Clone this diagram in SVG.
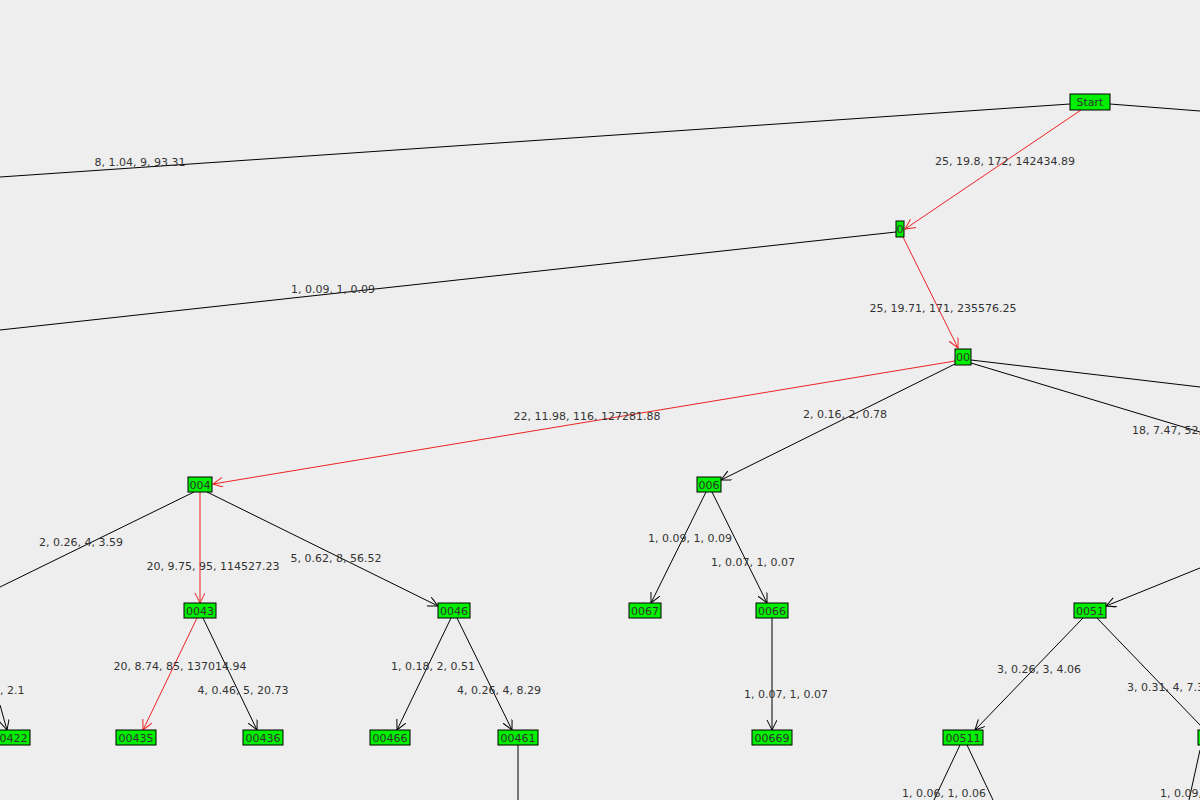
<svg xmlns="http://www.w3.org/2000/svg" width="1200" height="800" viewBox="0 0 1200 800">
<style>
.n rect{fill:#00ee00;stroke:#000;stroke-width:1}
.n text{font-family:"DejaVu Sans",sans-serif;font-size:11px;fill:#333;text-anchor:middle}
.e{stroke:#000;stroke-width:1;fill:none}
.r{stroke:#ee2222;stroke-width:1;fill:none}
.l{font-family:"DejaVu Sans",sans-serif;font-size:11px;fill:#333;text-anchor:middle}
</style>
<defs>
<marker id="ab" markerWidth="12" markerHeight="12" refX="10" refY="5" orient="auto" markerUnits="userSpaceOnUse"><path d="M0,0 L10,5 L0,10" fill="none" stroke="#000"/></marker>
<marker id="ar" markerWidth="12" markerHeight="12" refX="10" refY="5" orient="auto" markerUnits="userSpaceOnUse"><path d="M0,0 L10,5 L0,10" fill="none" stroke="#ee2222"/></marker>
</defs>
<rect width="1200" height="800" fill="#eeeeee"/>
<g id="connectors">
<line class="e" x1="1070" y1="104" x2="0" y2="177"/>
<line class="e" x1="1110" y1="104" x2="1200" y2="111"/>
<line class="r" x1="1081" y1="110" x2="905" y2="229" marker-end="url(#ar)"/>
<line class="e" x1="896" y1="232" x2="0" y2="330"/>
<line class="r" x1="903" y1="237" x2="958" y2="348" marker-end="url(#ar)"/>
<line class="e" x1="971" y1="360" x2="1200" y2="387"/>
<line class="e" x1="971" y1="363" x2="1200" y2="432"/>
<line class="r" x1="955" y1="361" x2="213" y2="484" marker-end="url(#ar)"/>
<line class="e" x1="955" y1="364" x2="721" y2="480" marker-end="url(#ab)"/>
<line class="e" x1="194" y1="492" x2="0" y2="587"/>
<line class="r" x1="200" y1="492" x2="200" y2="603" marker-end="url(#ar)"/>
<line class="e" x1="207" y1="492" x2="438" y2="606" marker-end="url(#ab)"/>
<line class="e" x1="0" y1="705" x2="7" y2="730" marker-end="url(#ab)"/>
<line class="r" x1="197" y1="618" x2="143" y2="730" marker-end="url(#ar)"/>
<line class="e" x1="203" y1="618" x2="257" y2="730" marker-end="url(#ab)"/>
<line class="e" x1="451" y1="618" x2="397" y2="730" marker-end="url(#ab)"/>
<line class="e" x1="457" y1="618" x2="512" y2="730" marker-end="url(#ab)"/>
<line class="e" x1="518" y1="745" x2="518" y2="800"/>
<line class="e" x1="706" y1="492" x2="651" y2="603" marker-end="url(#ab)"/>
<line class="e" x1="712" y1="492" x2="767" y2="603" marker-end="url(#ab)"/>
<line class="e" x1="772" y1="618" x2="772" y2="730" marker-end="url(#ab)"/>
<line class="e" x1="1200" y1="568" x2="1106" y2="606" marker-end="url(#ab)"/>
<line class="e" x1="1083" y1="618" x2="975" y2="730" marker-end="url(#ab)"/>
<line class="e" x1="1097" y1="618" x2="1200" y2="725"/>
<line class="e" x1="960" y1="745" x2="934" y2="800"/>
<line class="e" x1="967" y1="745" x2="993" y2="800"/>
<line class="e" x1="1200" y1="750" x2="1189" y2="800"/>
</g>
<g id="labels">
<text class="l" x="140" y="166">8, 1.04, 9, 93.31</text>
<text class="l" x="1005" y="165">25, 19.8, 172, 142434.89</text>
<text class="l" x="333" y="293">1, 0.09, 1, 0.09</text>
<text class="l" x="943" y="312">25, 19.71, 171, 235576.25</text>
<text class="l" x="587" y="420">22, 11.98, 116, 127281.88</text>
<text class="l" x="845" y="418">2, 0.16, 2, 0.78</text>
<text class="l" x="1132" y="434" text-anchor="start" style="text-anchor:start">18, 7.47, 52,</text>
<text class="l" x="81" y="546">2, 0.26, 4, 3.59</text>
<text class="l" x="213" y="570">20, 9.75, 95, 114527.23</text>
<text class="l" x="336" y="562">5, 0.62, 8, 56.52</text>
<text class="l" x="690" y="542">1, 0.09, 1, 0.09</text>
<text class="l" x="753" y="566">1, 0.07, 1, 0.07</text>
<text class="l" x="0" y="694" style="text-anchor:start">, 2.1</text>
<text class="l" x="180" y="670">20, 8.74, 85, 137014.94</text>
<text class="l" x="243" y="694">4, 0.46, 5, 20.73</text>
<text class="l" x="433" y="670">1, 0.18, 2, 0.51</text>
<text class="l" x="499" y="694">4, 0.26, 4, 8.29</text>
<text class="l" x="786" y="698">1, 0.07, 1, 0.07</text>
<text class="l" x="1039" y="673">3, 0.26, 3, 4.06</text>
<text class="l" x="1127" y="691" style="text-anchor:start">3, 0.31, 4, 7.3</text>
<text class="l" x="944" y="797">1, 0.06, 1, 0.06</text>
<text class="l" x="1160" y="797" style="text-anchor:start">1, 0.09,</text>
</g>
<g id="Start" class="n"><rect x="1070" y="94" width="40" height="16"/><text x="1090" y="106">Start</text></g>
<g id="n0" class="n"><rect x="896" y="221" width="8" height="16"/><text x="900" y="233">0</text></g>
<g id="n00" class="n"><rect x="955" y="349" width="16" height="16"/><text x="963" y="361">00</text></g>
<g id="n004" class="n"><rect x="188" y="477" width="24" height="15"/><text x="200" y="489">004</text></g>
<g id="n006" class="n"><rect x="697" y="477" width="24" height="15"/><text x="709" y="489">006</text></g>
<g id="n0043" class="n"><rect x="184" y="603" width="32" height="15"/><text x="200" y="615">0043</text></g>
<g id="n0046" class="n"><rect x="438" y="603" width="32" height="15"/><text x="454" y="615">0046</text></g>
<g id="n0067" class="n"><rect x="629" y="603" width="32" height="15"/><text x="645" y="615">0067</text></g>
<g id="n0066" class="n"><rect x="756" y="603" width="32" height="15"/><text x="772" y="615">0066</text></g>
<g id="n0051" class="n"><rect x="1074" y="603" width="32" height="15"/><text x="1090" y="615">0051</text></g>
<g id="n00422" class="n"><rect x="-10" y="730" width="40" height="15"/><text x="10" y="742">00422</text></g>
<g id="n00435" class="n"><rect x="116" y="730" width="40" height="15"/><text x="136" y="742">00435</text></g>
<g id="n00436" class="n"><rect x="243" y="730" width="40" height="15"/><text x="263" y="742">00436</text></g>
<g id="n00466" class="n"><rect x="370" y="730" width="40" height="15"/><text x="390" y="742">00466</text></g>
<g id="n00461" class="n"><rect x="498" y="730" width="40" height="15"/><text x="518" y="742">00461</text></g>
<g id="n00669" class="n"><rect x="752" y="730" width="40" height="15"/><text x="772" y="742">00669</text></g>
<g id="n00511" class="n"><rect x="943" y="730" width="40" height="15"/><text x="963" y="742">00511</text></g>
<g id="n0051x" class="n"><rect x="1198" y="730" width="40" height="15"/></g>
</svg>
